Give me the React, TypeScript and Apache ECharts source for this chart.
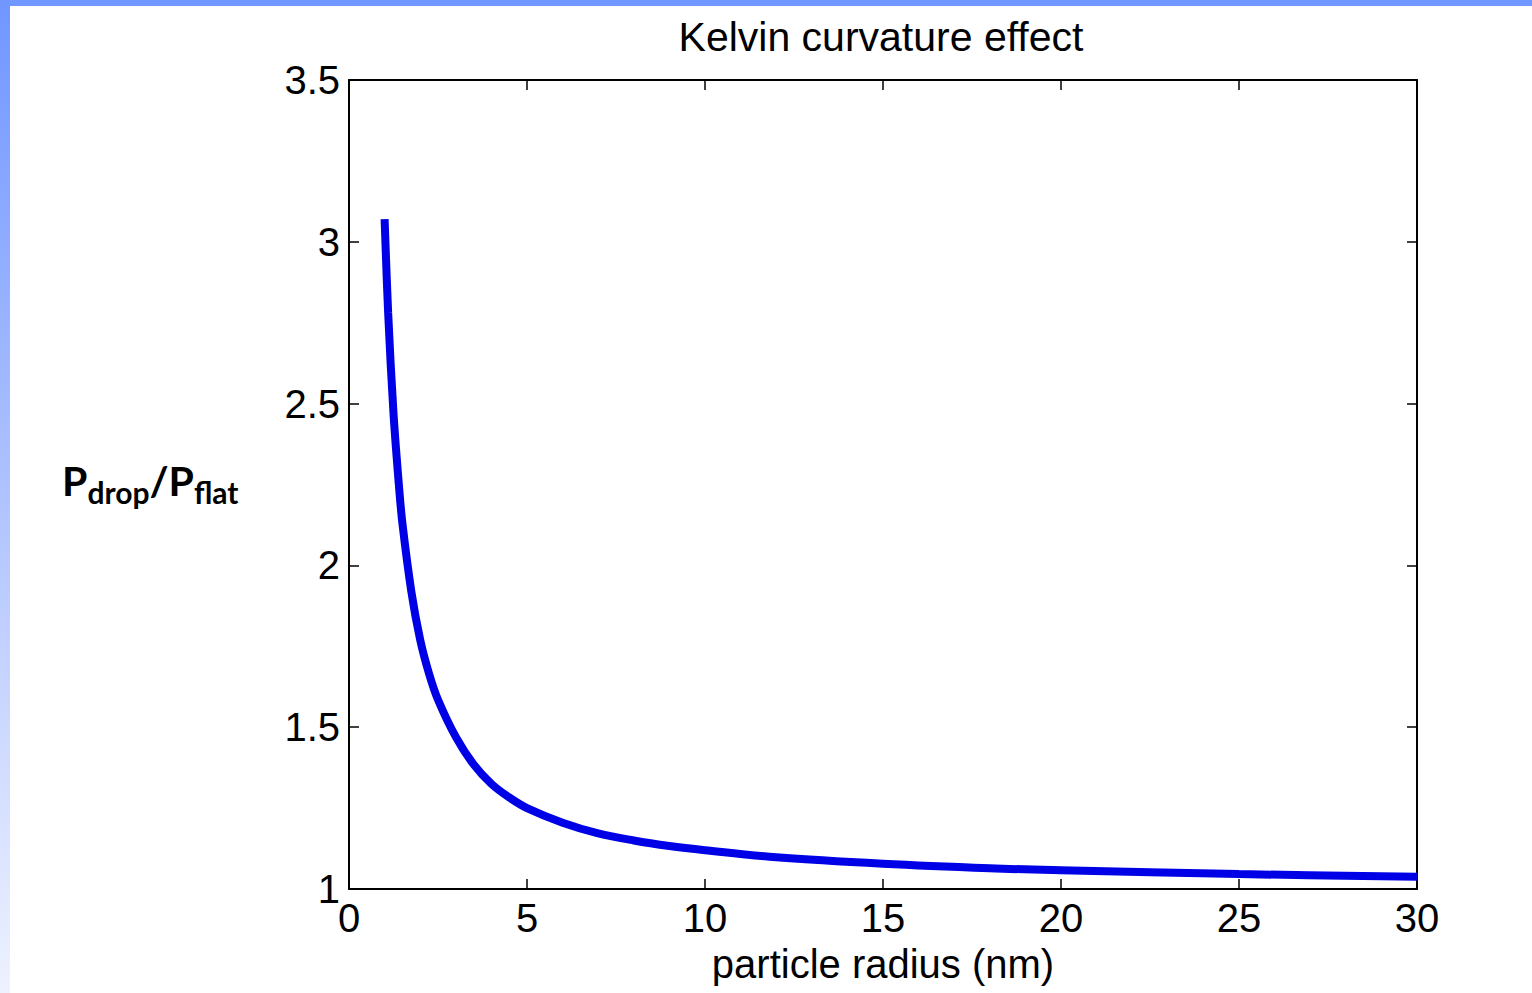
import React, { useEffect, useRef } from "react";
import * as echarts from "echarts";

const radius = [1, 1.1, 1.25, 1.4, 1.5, 1.75, 2, 2.25, 2.5, 3, 3.5, 4, 4.5, 5, 6, 7, 8, 9, 10, 12, 15, 18, 20, 25, 30];
const ratio = [3.07, 2.78, 2.47, 2.25, 2.13, 1.92, 1.77, 1.665, 1.585, 1.47, 1.385, 1.325, 1.283, 1.25, 1.205, 1.172, 1.15, 1.133, 1.12, 1.098, 1.078, 1.064, 1.058, 1.046, 1.038];
const xTicks = [0, 30, 5];
const yTicks = [1, 3.5, 0.5];
const titleText = "Kelvin curvature effect";
const xName = "particle radius (nm)";

const FONT = "'Liberation Sans', Arial, sans-serif";

export default function App() {
  const ref = useRef<HTMLDivElement>(null);
  useEffect(() => {
    const chart = echarts.init(ref.current!, null, { renderer: "svg" });
    const data = radius.map((r, i) => [r, ratio[i]]);
    const gl = 349, gt = 80, gr = 1417, gb = 889;
    const axisCommon = {
      type: "value" as const,
      axisLine: { show: true, onZero: false, lineStyle: { color: "#000", width: 2 } },
      axisTick: { show: true, inside: true, length: 10, lineStyle: { color: "#000", width: 1.5 } },
      splitLine: { show: false },
    };
    chart.setOption({
      animation: false,
      backgroundColor: "#ffffff",
      grid: { left: gl, top: gt, right: 1532 - gr, bottom: 993 - gb, containLabel: false },
      xAxis: [
        {
          ...axisCommon,
          position: "bottom",
          min: xTicks[0], max: xTicks[1], interval: xTicks[2],
          axisLabel: { show: true, color: "#000", fontSize: 40, fontFamily: FONT, margin: 9 },
          name: xName,
          nameLocation: "middle",
          nameGap: 55,
          nameTextStyle: { color: "#000", fontSize: 40, fontFamily: FONT },
        },
        {
          ...axisCommon,
          position: "top",
          min: xTicks[0], max: xTicks[1], interval: xTicks[2],
          axisLabel: { show: false },
        },
      ],
      yAxis: [
        {
          ...axisCommon,
          position: "left",
          min: yTicks[0], max: yTicks[1], interval: yTicks[2],
          axisLabel: { show: true, color: "#000", fontSize: 40, fontFamily: FONT, margin: 9 },
        },
        {
          ...axisCommon,
          position: "right",
          min: yTicks[0], max: yTicks[1], interval: yTicks[2],
          axisLabel: { show: false },
        },
      ],
      graphic: [
        {
          type: "rect",
          z: -10,
          shape: { x: 0, y: 0, width: 1532, height: 6 },
          style: { fill: "#7096FF" },
          silent: true,
        },
        {
          type: "rect",
          z: -10,
          shape: { x: 0, y: 0, width: 10, height: 993 },
          style: {
            fill: new echarts.graphic.LinearGradient(0, 0, 0, 1, [
              { offset: 0, color: "#7096FF" },
              { offset: 0.5, color: "#AFC3FF" },
              { offset: 1, color: "#EEF2FF" },
            ]),
          },
          silent: true,
        },
        {
          type: "text",
          x: 881, y: 37,
          style: {
            text: titleText,
            fill: "#000",
            font: `normal 41px ${FONT}`,
            align: "center",
            verticalAlign: "middle",
          },
        },
        {
          type: "text",
          x: 62, y: 460,
          style: {
            text: "{p|P}{s|drop}{p|/P}{s|flat}",
            fill: "#000",
            align: "left",
            verticalAlign: "top",
            rich: {
              p: { fontSize: 41, fontWeight: "bold", fontFamily: "Lato, 'Open Sans', sans-serif", lineHeight: 42, verticalAlign: "top", fill: "#000" },
              s: { fontSize: 30, fontWeight: "bold", fontFamily: "Lato, 'Open Sans', sans-serif", lineHeight: 30, padding: [17, 0, 0, 0], verticalAlign: "top", fill: "#000" },
            },
          },
        },
      ],
      series: [
        {
          type: "line",
          xAxisIndex: 0,
          yAxisIndex: 0,
          data,
          smooth: 0.35,
          showSymbol: false,
          symbol: "none",
          lineStyle: { color: "#0000E6", width: 8 },
        },
      ],
    });
    return () => chart.dispose();
  }, []);
  return (
    <div
      ref={ref}
      style={{ position: "fixed", left: 0, top: 0, width: 1532, height: 993, background: "#fff" }}
    />
  );
}
